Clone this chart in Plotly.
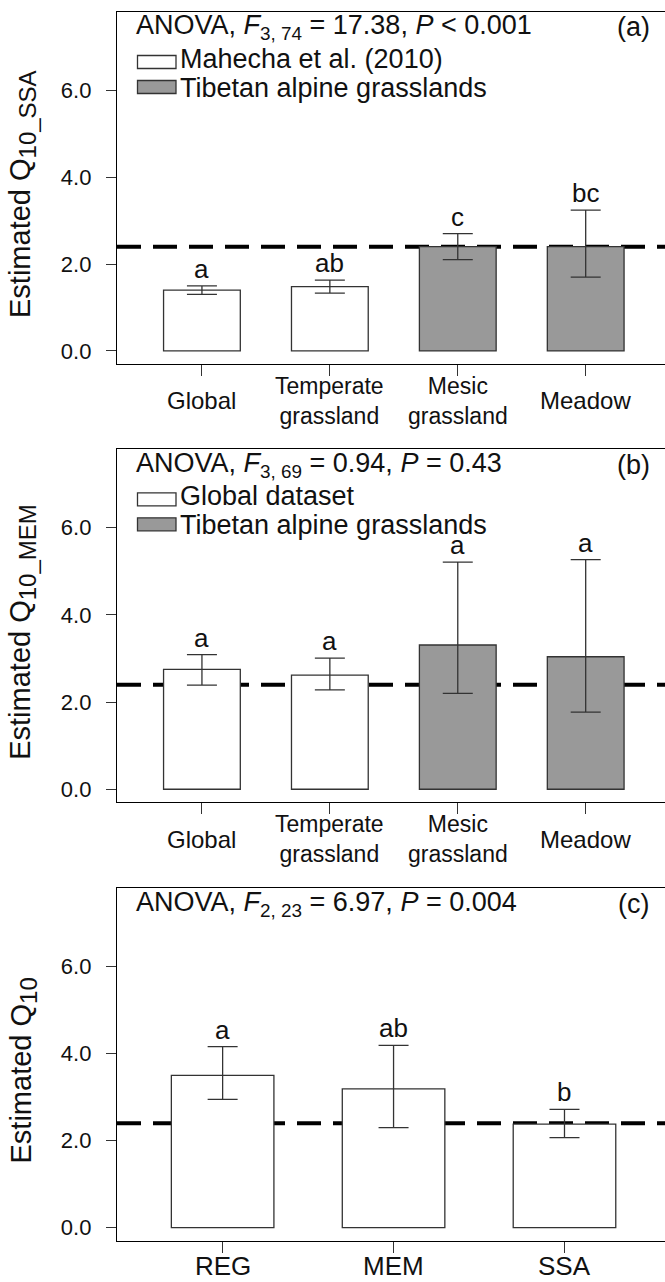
import plotly.graph_objects as go

# ---------------- data ----------------
habitats = ["Global", "Temperate\ngrassland", "Mesic\ngrassland", "Meadow"]
habitat_fill = ["#ffffff", "#ffffff", "#999999", "#999999"]

q10_ssa = [1.40, 1.48, 2.40, 2.40]
q10_ssa_lo = [1.30, 1.33, 2.10, 1.70]
q10_ssa_hi = [1.50, 1.63, 2.70, 3.24]
letters_ssa = ["a", "ab", "c", "bc"]

q10_mem = [2.75, 2.62, 3.31, 3.04]
q10_mem_lo = [2.39, 2.28, 2.20, 1.77]
q10_mem_hi = [3.09, 3.01, 5.21, 5.27]
letters_mem = ["a", "a", "a", "a"]

methods = ["REG", "MEM", "SSA"]
method_fill = ["#ffffff", "#ffffff", "#ffffff"]
q10_method = [3.50, 3.19, 2.38]
q10_method_lo = [2.95, 2.30, 2.07]
q10_method_hi = [4.16, 4.19, 2.72]
letters_method = ["a", "ab", "b"]

ref_q10 = 2.4
yticks = [0, 2, 4, 6]
yticklabels = ["0.0", "2.0", "4.0", "6.0"]

# ---------------- layout helpers ----------------
W, H = 665, 1282
FONT = "Liberation Sans, Arial, Helvetica, sans-serif"
DARK = "#333333"


def py(p):
    return 1 - p / H


def px(p):
    return p / W


def sub(t):
    return f"<sub><span style='font-size:24px'>{t}</span></sub>"


panels = [
    dict(cats=habitats, vals=q10_ssa, lo=q10_ssa_lo, hi=q10_ssa_hi, fill=habitat_fill,
         letters=letters_ssa, top=12, bottom=364, xr=[-0.664, 3.62],
         anova="ANOVA, <i>F</i><sub>3, 74</sub> = 17.38, <i>P</i> &lt; 0.001", tag="(a)",
         legend=["Mahecha et al. (2010)", "Tibetan alpine grasslands"],
         ytitle="Estimated Q" + sub("10_SSA"), lab_size=24, lab_off=37),
    dict(cats=habitats, vals=q10_mem, lo=q10_mem_lo, hi=q10_mem_hi, fill=habitat_fill,
         letters=letters_mem, top=449.3, bottom=802.3, xr=[-0.664, 3.62],
         anova="ANOVA, <i>F</i><sub>3, 69</sub> = 0.94, <i>P</i> = 0.43", tag="(b)",
         legend=["Global dataset", "Tibetan alpine grasslands"],
         ytitle="Estimated Q" + sub("10_MEM"), lab_size=24, lab_off=37),
    dict(cats=methods, vals=q10_method, lo=q10_method_lo, hi=q10_method_hi, fill=method_fill,
         letters=letters_method, top=888.3, bottom=1240.7, xr=[-0.618, 2.588],
         anova="ANOVA, <i>F</i><sub>2, 23</sub> = 6.97, <i>P</i> = 0.004", tag="(c)",
         legend=None, ytitle="Estimated Q" + sub("10"), lab_size=26, lab_off=25),
]

fig = go.Figure()
annotations = []
shapes = []

for i, p in enumerate(panels):
    n = i + 1
    xa = "x" if n == 1 else f"x{n}"
    ya = "y" if n == 1 else f"y{n}"
    xkey = "xaxis" if n == 1 else f"xaxis{n}"
    ykey = "yaxis" if n == 1 else f"yaxis{n}"
    keys = [c.replace("\n", " ") for c in p["cats"]]

    fig.add_trace(go.Bar(
        x=keys, y=p["vals"], width=0.6, xaxis=xa, yaxis=ya,
        marker=dict(color=p["fill"], line=dict(color=DARK, width=1.3)),
        error_y=dict(type="data", symmetric=False,
                     array=[h - v for h, v in zip(p["hi"], p["vals"])],
                     arrayminus=[v - l for v, l in zip(p["vals"], p["lo"])],
                     color=DARK, thickness=1.3, width=15),
        hoverinfo="skip",
    ))

    fig.layout[xkey] = dict(
        domain=[px(117), 1.0], anchor=ya, type="category", range=p["xr"],
        showline=True, mirror=True, linecolor="black", linewidth=1.3,
        ticks="outside", ticklen=11, tickwidth=1.3, tickcolor=DARK,
        showticklabels=False, showgrid=False, zeroline=False, fixedrange=True,
    )
    fig.layout[ykey] = dict(
        domain=[py(p["bottom"]), py(p["top"])], anchor=xa, range=[-0.3, 7.8],
        showline=True, mirror=False, linecolor="black", linewidth=1.3,
        ticks="outside", ticklen=10, tickwidth=1.3, tickcolor=DARK,
        tickvals=yticks, ticktext=yticklabels, ticklabelstandoff=10,
        tickfont=dict(family=FONT, size=22, color="#111"),
        showgrid=False, zeroline=False, fixedrange=True,
    )

    # reference dashed line (behind bars)
    shapes.append(dict(type="line", xref=f"{xa} domain", yref=ya, x0=0, x1=1,
                       y0=ref_q10, y1=ref_q10, layer="below",
                       line=dict(color="black", width=4, dash="24px,12px")))

    # significance letters
    for k, h, t in zip(keys, p["hi"], p["letters"]):
        annotations.append(dict(x=k, y=h, xref=xa, yref=ya, text=t, showarrow=False,
                                yanchor="bottom", yshift=0,
                                font=dict(family=FONT, size=26, color="#111")))

    # category labels (centered block)
    cy = p["bottom"] + p["lab_off"]
    for c, k in zip(p["cats"], keys):
        annotations.append(dict(x=k, y=py(cy), xref=xa, yref="paper",
                                text=c.replace("\n", "<br>"),
                                showarrow=False, yanchor="middle",
                                font=dict(family=FONT, size=p["lab_size"] - (1 if "\n" in c else 0),
                                          color="#111")))

    # ANOVA text and panel tag
    annotations.append(dict(x=px(134), y=py(p["top"] + 15.5), xref="paper", yref="paper",
                            text=p["anova"], showarrow=False, xanchor="left", yanchor="middle",
                            font=dict(family=FONT, size=27, color="#111")))
    annotations.append(dict(x=px(633), y=py(p["top"] + 15.5), xref="paper", yref="paper",
                            text=p["tag"], showarrow=False, xanchor="center", yanchor="middle",
                            font=dict(family=FONT, size=27, color="#111")))

    # legend
    if p["legend"]:
        for j, (lab, col) in enumerate(zip(p["legend"], ["#ffffff", "#999999"])):
            yb = p["top"] + 50 + j * 25
            yt = p["top"] + 47 + j * 29
            shapes.append(dict(type="rect", xref="paper", yref="paper",
                               x0=px(137.5), x1=px(176), y0=py(yb + 6.5), y1=py(yb - 6.5),
                               fillcolor=col, line=dict(color=DARK, width=1.3)))
            annotations.append(dict(x=px(178), y=py(yt), xref="paper", yref="paper",
                                    text=lab, showarrow=False, xanchor="left", yanchor="middle",
                                    font=dict(family=FONT, size=27, color="#111")))

    # y axis title
    annotations.append(dict(x=px(23), y=py((p["top"] + p["bottom"]) / 2 + 6), xref="paper",
                            yref="paper", text=p["ytitle"], showarrow=False, textangle=-90,
                            xanchor="center", yanchor="middle",
                            font=dict(family=FONT, size=29, color="#111")))

fig.update_layout(
    width=W, height=H, margin=dict(l=0, r=0, t=0, b=0),
    paper_bgcolor="white", plot_bgcolor="white", showlegend=False,
    annotations=annotations, shapes=shapes, bargap=0.4,
)

fig.write_html("out.html")
